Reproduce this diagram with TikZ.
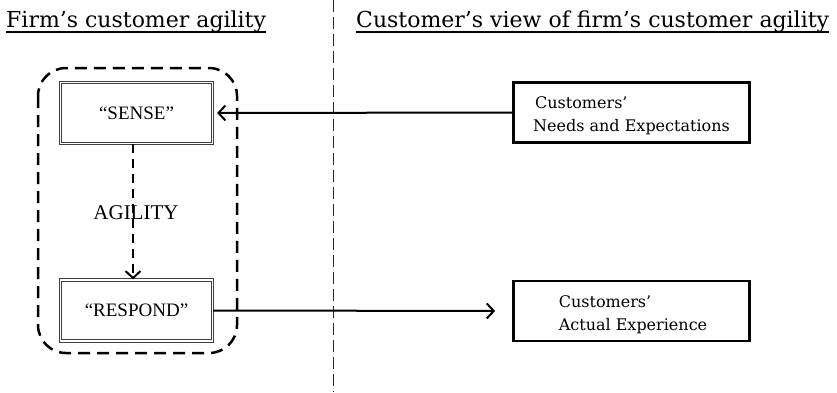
\documentclass[tikz,border=0pt]{standalone}
\usepackage{fontspec}
\setmainfont{DejaVu Serif}
\newfontfamily\tms{Liberation Serif}
\usetikzlibrary{arrows.meta}

\tikzset{
  heading/.style={inner sep=0pt, anchor=base west, font=\fontsize{22}{25}\selectfont},
  headrule/.style={line width=1.5pt},
  divider/.style={line width=1pt, black!85, dash pattern=on 12pt off 5pt},
  zone/.style={line width=2.5pt, dash pattern=on 12pt off 7pt, rounded corners=28pt},
  firmbox/.style={draw=black!75, double=white, double distance=1.2pt, line width=1.2pt,
    minimum width=152pt, minimum height=61pt, inner sep=0pt,
    font=\tms\fontsize{19}{21}\selectfont},
  custbox/.style={draw=black, line width=2.8pt, minimum width=236pt, minimum height=60pt,
    inner sep=0pt},
  custtext/.style={inner sep=0pt, align=left, font=\fontsize{16}{23}\selectfont},
  flow/.style={line width=2pt, -{Straight Barb[length=7pt,width=15pt,line width=2pt]}},
  dflow/.style={flow, dash pattern=on 9pt off 6pt}
}

\begin{document}
\begin{tikzpicture}[x=1pt,y=-1pt]
  \useasboundingbox (0,0) rectangle (837,392);

  % column headings
  \node[heading] (hfirm) at (6,27) {Firm’s customer agility};
  \node[heading] (hcust) at (356,27) {Customer’s view of firm’s customer agility};
  \draw[headrule] ([yshift=-5pt]hfirm.base west) -- ([yshift=-5pt]hfirm.base east);
  \draw[headrule] ([yshift=-5pt]hcust.base west) -- ([yshift=-5pt]hcust.base east);

  % divider between the two views
  \coordinate (dtop) at (333,0);
  \coordinate (dbot) at (333,392);
  \draw[divider] (dtop) -- (dbot);

  % agility zone around the firm's sense/respond loop
  \draw[zone] (38,68) rectangle (237,353);

  % firm side
  \node[firmbox] (sense) at (136.5,113) {“SENSE”};
  \node[firmbox] (respond) at (136.5,310.5) {“RESPOND”};
  \node[font=\tms\fontsize{21}{23}\selectfont, inner sep=0pt] (agility) at (136,213) {AGILITY};

  % customer side
  \node[custbox] (needs) at (631.5,112.5) {};
  \node[custbox] (actual) at (631.5,311) {};
  \node[custtext] (needstext) at ([yshift=-3.5pt]needs.center) {\hspace*{2pt}Customers’\\Needs and Expectations};
  \node[custtext] (actualtext) at ([yshift=-4pt, xshift=1.5pt]actual.center) {Customers’\\Actual Experience};

  % connectors
  \draw[dflow] ([xshift=-3.5pt]sense.south) -- ([xshift=-3.5pt]respond.north);
  \draw[flow, shorten >=4pt] (needs.west) -- (sense.east);
  \draw[flow, shorten >=17pt] (respond.east) -- (actual.west);
\end{tikzpicture}
\end{document}
